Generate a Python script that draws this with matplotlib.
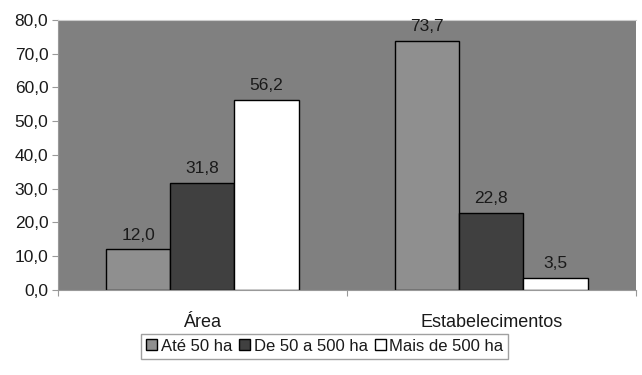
import numpy as np
import matplotlib.pyplot as plt
from matplotlib.ticker import FuncFormatter

plt.rcParams['font.family'] = ['Liberation Sans', 'DejaVu Sans']

categorias = ["Área", "Estabelecimentos"]
series = ["Até 50 ha", "De 50 a 500 ha", "Mais de 500 ha"]
ate_50 = [12.0, 73.7]
de_50_500 = [31.8, 22.8]
mais_500 = [56.2, 3.5]
cores = ["#8f8f8f", "#404040", "#ffffff"]

fig = plt.figure(figsize=(6.42, 3.75), dpi=100)
ax = fig.add_axes([0.0903, 0.2267, 0.9, 0.72])
ax.set_facecolor("#808080")

fs = 12.5
x = np.arange(len(categorias))
w = 0.222
for i, (nome, vals) in enumerate(zip(series, [ate_50, de_50_500, mais_500])):
    pos = x + (i - 1) * w
    bars = ax.bar(pos, vals, w, color=cores[i], edgecolor="black", linewidth=1, label=nome)
    for b, v in zip(bars, vals):
        ax.annotate(f"{v:.1f}".replace(".", ","), (b.get_x() + b.get_width() / 2, v),
                    xytext=(0, 5), textcoords="offset points", ha="center", va="bottom",
                    fontsize=fs, color="#1a1a1a")

ax.set_xlim(-0.5, 1.5)
ax.set_ylim(0, 80)
ax.set_yticks(np.arange(0, 81, 10))
ax.yaxis.set_major_formatter(FuncFormatter(lambda v, p: f"{v:.1f}".replace(".", ",")))
ax.set_xticks([-0.5, 0.5, 1.5])
ax.set_xticklabels([])
ax.set_xticks(x, minor=True)
ax.set_xticklabels(categorias, minor=True)
ax.tick_params(axis="x", which="minor", length=0, pad=17, labelsize=13, labelcolor="#1a1a1a")
ax.tick_params(axis="x", which="major", length=4, color="#999999")
ax.tick_params(axis="y", length=4, color="#999999", labelsize=fs, labelcolor="#1a1a1a", pad=3)
for s in ["left", "bottom"]:
    ax.spines[s].set_color("#999999")
ax.spines["top"].set_color("#cccccc")
ax.spines["right"].set_visible(False)

leg = fig.legend(loc="center", bbox_to_anchor=(0.506, 0.077), ncol=3, frameon=True,
                 fancybox=False, edgecolor="#888888", fontsize=12, handlelength=0.65,
                 handleheight=0.65, handletextpad=0.2, columnspacing=0.45, borderpad=0.3,
                 labelcolor="#1a1a1a")
leg.get_frame().set_linewidth(1)

fig.savefig("out.png", dpi=100)
